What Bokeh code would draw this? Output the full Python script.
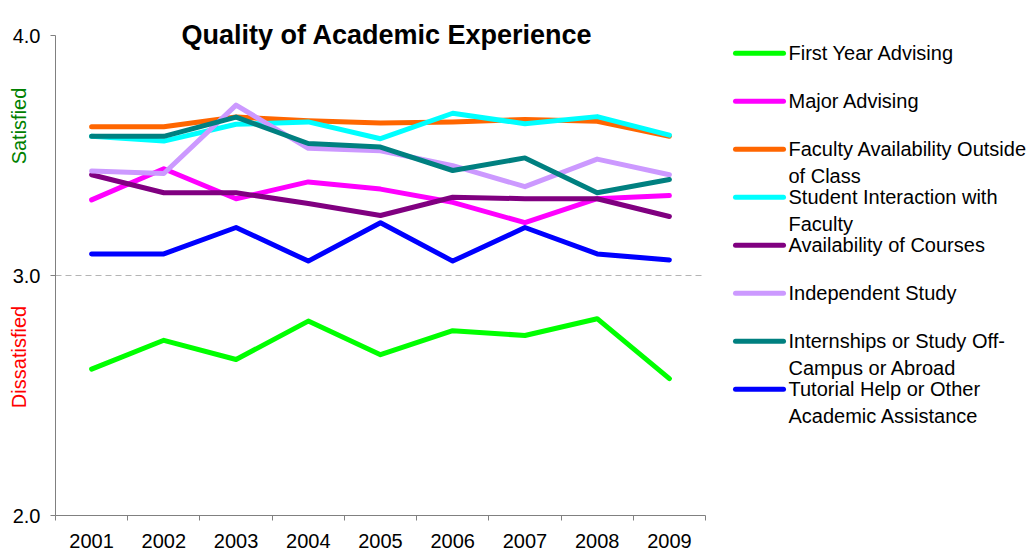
import math
from bokeh.plotting import figure
from bokeh.models import Range1d, FixedTicker, PrintfTickFormatter
from bokeh.embed import file_html
from bokeh.resources import INLINE
from bokeh.core.properties import value

# ---------------- data ----------------
years = ["2001", "2002", "2003", "2004", "2005", "2006", "2007", "2008", "2009"]

first_year_advising = [2.61, 2.73, 2.65, 2.81, 2.67, 2.77, 2.75, 2.82, 2.57]
major_advising = [3.315, 3.445, 3.32, 3.39, 3.36, 3.305, 3.22, 3.32, 3.333]
faculty_availability = [3.62, 3.62, 3.66, 3.645, 3.635, 3.64, 3.65, 3.643, 3.58]
student_interaction = [3.58, 3.56, 3.63, 3.64, 3.57, 3.676, 3.632, 3.662, 3.585]
availability_courses = [3.42, 3.345, 3.345, 3.30, 3.25, 3.326, 3.32, 3.32, 3.246]
independent_study = [3.435, 3.425, 3.71, 3.53, 3.52, 3.458, 3.37, 3.485, 3.42]
internships = [3.58, 3.58, 3.66, 3.55, 3.535, 3.4375, 3.49, 3.345, 3.40]
tutorial_help = [3.09, 3.09, 3.20, 3.06, 3.22, 3.06, 3.20, 3.09, 3.065]

series_names = [
    "First Year Advising",
    "Major Advising",
    "Faculty Availability Outside\nof Class",
    "Student Interaction with\nFaculty",
    "Availability of Courses",
    "Independent Study",
    "Internships or Study Off-\nCampus  or Abroad",
    "Tutorial Help or Other\nAcademic Assistance",
]
series_values = [first_year_advising, major_advising, faculty_availability,
                 student_interaction, availability_courses, independent_study,
                 internships, tutorial_help]
series_colors = ["#00FF00", "#FF00FF", "#FF6600", "#00FFFF", "#800080",
                 "#CC99FF", "#008080", "#0000FF"]

y_ticks = [2.0, 3.0, 4.0]
y_min, y_max = 2.0, 4.0
midline = 3.0

FONT = "Liberation Sans"

# ---------------- layout (pixels) ----------------
W, H = 1034, 552
plot_left, plot_right = 55, 705      # x of category axis ends
plot_top, plot_bottom = 35, 515      # y of 4.0 and 2.0
n = len(years)
px_per_x = (plot_right - plot_left) / n
px_per_y = (plot_bottom - plot_top) / (y_max - y_min)

x_range = Range1d(-plot_left / px_per_x, (W - plot_left) / px_per_x)
y_range = Range1d(y_min - (H - plot_bottom) / px_per_y,
                  y_max + plot_top / px_per_y)

p = figure(width=W, height=H, output_backend="svg", toolbar_location=None,
           x_range=x_range, y_range=y_range, min_border=0)
p.extra_x_ranges = {"px": Range1d(0, W)}
p.extra_y_ranges = {"px": Range1d(0, H)}
p.outline_line_color = None
p.xgrid.visible = False
p.ygrid.visible = False
p.background_fill_color = "white"
p.border_fill_color = "white"


def top(v):
    return H - v


xs = [i + 0.5 for i in range(n)]

# dashed midline between the axis ends
p.line([0, n], [midline, midline], line_color="#B4B4B4", line_dash="6 4",
       line_width=1)

for vals, col in zip(series_values, series_colors):
    p.line(xs, vals, line_color=col, line_width=5, line_join="round",
           line_cap="round")

# x axis: labels at category centres, ticks at category boundaries
xa = p.xaxis[0]
xa.fixed_location = y_min
xa.bounds = (0, n)
xa.ticker = FixedTicker(ticks=xs, minor_ticks=list(range(n + 1)))
xa.major_label_overrides = {x: y for x, y in zip(xs, years)}
xa.major_tick_out = 0
xa.major_tick_in = 0
xa.major_tick_line_color = None
xa.minor_tick_out = 5
xa.minor_tick_in = 0
xa.minor_tick_line_color = "#808080"
xa.axis_line_color = "#808080"
xa.major_label_standoff = 13
xa.major_label_text_font = FONT
xa.major_label_text_font_size = "20px"
xa.major_label_text_color = "black"

ya = p.yaxis[0]
ya.fixed_location = 0
ya.bounds = (y_min, y_max)
ya.ticker = FixedTicker(ticks=y_ticks, minor_ticks=[])
ya.formatter = PrintfTickFormatter(format="%.1f")
ya.major_tick_out = 5
ya.major_tick_in = 0
ya.major_tick_line_color = "#808080"
ya.axis_line_color = "#808080"
ya.major_label_standoff = 10
ya.major_label_text_font = FONT
ya.major_label_text_font_size = "20px"
ya.major_label_text_color = "black"

# title
p.text(x=[386.5], y=[top(34.3)], text=["Quality of Academic Experience"],
       x_range_name="px", y_range_name="px", text_font=value(FONT),
       text_font_size="27px", text_font_style="bold", text_align="center",
       text_baseline="alphabetic", text_color="black")

# side labels
p.text(x=[18, 18], y=[top(125.5), top(356.5)], text=["Satisfied", "Dissatisfied"],
       x_range_name="px", y_range_name="px", angle=math.pi / 2,
       text_font=value(FONT), text_font_size="20px",
       text_color=["#008000", "#FF0000"], text_align="center",
       text_baseline="middle")

# legend
seg_y = [52.7 + 48 * i for i in range(len(series_names))]
p.segment(x0=[735] * len(seg_y), y0=[top(v) for v in seg_y],
          x1=[783] * len(seg_y), y1=[top(v) for v in seg_y],
          x_range_name="px", y_range_name="px",
          line_color=series_colors, line_width=5, line_cap="round")

tx, ty, tt = [], [], []
for name, yy in zip(series_names, seg_y):
    for k, part in enumerate(name.split("\n")):
        tx.append(788)
        ty.append(top(yy + 26.5 * k))
        tt.append(part)
p.text(x=tx, y=ty, text=tt, x_range_name="px", y_range_name="px",
       text_font=value(FONT), text_font_size="20px",
       text_baseline="middle", text_align="left", text_color="black")

open("out.html", "w").write(file_html(p, INLINE))
